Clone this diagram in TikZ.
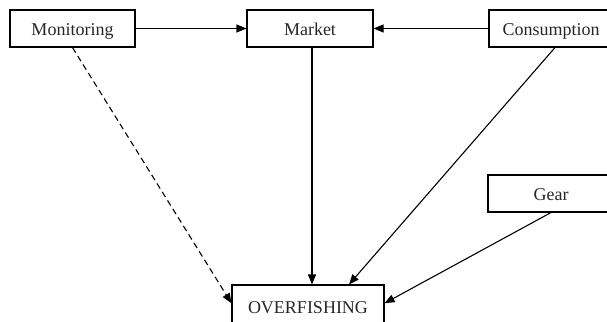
\documentclass[tikz,border=0pt]{standalone}
\usepackage{fontspec}
\setmainfont{Liberation Serif}
\usetikzlibrary{arrows.meta}
\begin{document}
\begin{tikzpicture}[x=1pt,y=-1pt,
  box/.style={draw,line width=1.1pt,rectangle,minimum height=37pt,inner sep=0pt,
    text height=14pt,text depth=0.5pt,
    font=\fontsize{18}{20}\selectfont,text=black!85},
  conn/.style={line width=1.1pt,-{Triangle[length=10pt,width=8pt]}}]
\useasboundingbox (0,0) rectangle (607,321);
\node[box,minimum width=125pt] (mon) at (72.5,28.5) {Monitoring};
\node[box,minimum width=126pt] (mar) at (310,28.5) {Market};
\node[box,minimum width=124pt] (cons) at (551,28.5) {Consumption};
\node[box,minimum width=126pt] (gear) at (551,193.5) {Gear};
\node[box,minimum width=152pt,minimum height=42.5pt] (over) at (308,306.25) {OVERFISHING};
\draw[conn] (mon.east) -- (mar.west);
\draw[conn] (cons.west) -- (mar.east);
\draw[conn] ([xshift=2pt]mar.south) -- ([xshift=2pt]mar.south |- over.north);
\draw[conn] ([xshift=4pt]cons.south) -- ([xshift=41pt]over.north);
\draw[conn] (gear.south) -- ([yshift=3pt]over.east);
\draw[conn,dash pattern=on 6pt off 4pt] (mon.south) -- ([yshift=3pt]over.west);
\end{tikzpicture}
\end{document}
